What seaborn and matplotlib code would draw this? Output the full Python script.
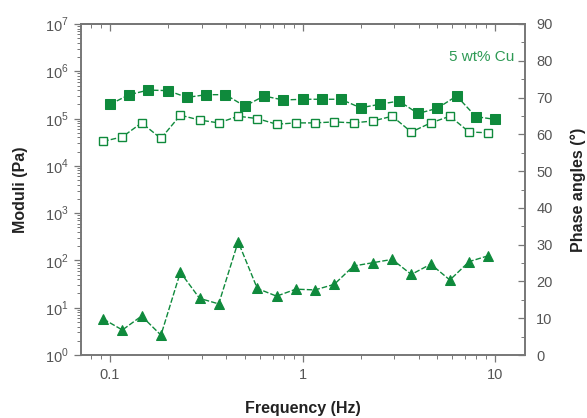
import numpy as np
import pandas as pd
import matplotlib
matplotlib.use("Agg")
import matplotlib.pyplot as plt
import seaborn as sns
from matplotlib.ticker import LogLocator, FixedLocator, MultipleLocator, NullFormatter

# ---- data ----
freq_storage = [0.1, 0.126, 0.158, 0.2, 0.251, 0.316, 0.398, 0.501, 0.631, 0.794,
                1.0, 1.26, 1.58, 2.0, 2.51, 3.16, 3.98, 5.01, 6.31, 7.94, 10.0]
storage = [2.0e5, 3.2e5, 4.0e5, 3.9e5, 2.8e5, 3.2e5, 3.2e5, 1.83e5, 3.0e5, 2.47e5,
           2.56e5, 2.56e5, 2.56e5, 1.69e5, 2.0e5, 2.35e5, 1.28e5, 1.65e5, 3.0e5, 1.1e5, 9.6e4]

freq_loss = [0.0923, 0.116, 0.146, 0.184, 0.232, 0.292, 0.367, 0.463, 0.582, 0.733,
             0.923, 1.16, 1.46, 1.84, 2.32, 2.92, 3.67, 4.63, 5.82, 7.33, 9.23]
loss = [3.3e4, 4.1e4, 8.1e4, 3.8e4, 1.18e5, 9.3e4, 8.1e4, 1.12e5, 1.0e5, 7.6e4,
        8.1e4, 8.1e4, 8.5e4, 8.1e4, 8.9e4, 1.12e5, 5.2e4, 8.1e4, 1.12e5, 5.2e4, 5.0e4]

phase = [9.8, 6.8, 10.6, 5.4, 22.5, 15.4, 13.9, 30.8, 18.1, 16.0,
         17.9, 17.7, 19.2, 24.2, 25.1, 26.0, 21.9, 24.7, 20.4, 25.4, 27.0]

x_ticks = [0.1, 1, 10]
x_ticklabels = ["0.1", "1", "10"]
y_ticks = [1e0, 1e1, 1e2, 1e3, 1e4, 1e5, 1e6, 1e7]
y_ticklabels = [r"$10^{%d}$" % i for i in range(8)]
phase_ticks = [0, 10, 20, 30, 40, 50, 60, 70, 80, 90]
annotation = "5 wt% Cu"

df_s = pd.DataFrame({"f": freq_storage, "G": storage})
df_l = pd.DataFrame({"f": freq_loss, "G": loss, "phase": phase})

sns.set_style("ticks")
plt.rcParams["font.family"] = ["Liberation Sans", "DejaVu Sans"]
plt.rcParams["mathtext.fontset"] = "custom"
plt.rcParams["mathtext.rm"] = "Liberation Sans"

green = "#0f8a3c"
tick_col = "#555555"
frame_col = "#777777"

fig = plt.figure(figsize=(5.87, 4.18), dpi=100)
ax = fig.add_axes([0.1375, 0.1507, 0.7570, 0.7919])
ax2 = ax.twinx()

dash = (4, 1.5)
sns.lineplot(data=df_s, x="f", y="G", ax=ax, color=green, marker="s", markersize=6.5,
             markeredgecolor=green, linewidth=1.0)
sns.lineplot(data=df_l, x="f", y="G", ax=ax, color=green, marker="s", markersize=5.5,
             markerfacecolor="white", markeredgecolor=green, markeredgewidth=1.0,
             linewidth=1.0)
sns.lineplot(data=df_l, x="f", y="phase", ax=ax2, color=green, marker="^", markersize=7,
             markeredgecolor=green, linewidth=1.0)
for line in ax.lines + ax2.lines:
    line.set_dashes(dash)

ax.set_xscale("log")
ax.set_yscale("log")
ax.set_xlim(0.0705, 14.3)
ax.set_ylim(1, 1e7)
ax2.set_ylim(0, 90)

ax.set_xticks(x_ticks)
ax.set_xticklabels(x_ticklabels)
ax.xaxis.set_minor_locator(LogLocator(base=10, subs=np.arange(2, 10)))
ax.xaxis.set_minor_formatter(NullFormatter())
ax.set_yticks(y_ticks)
ax.set_yticklabels(y_ticklabels)
ax.yaxis.set_minor_locator(LogLocator(base=10, subs=np.arange(2, 10), numticks=20))
ax.yaxis.set_minor_formatter(NullFormatter())
ax2.set_yticks(phase_ticks)
ax2.yaxis.set_minor_locator(MultipleLocator(5))

# top axis with inward ticks
top = ax.secondary_xaxis("top")
top.set_xticks(x_ticks)
top.set_xticklabels([])
top.xaxis.set_minor_locator(LogLocator(base=10, subs=np.arange(2, 10)))
top.xaxis.set_minor_formatter(NullFormatter())
top.tick_params(axis="x", which="both", direction="in", colors=frame_col)
top.tick_params(axis="x", which="major", length=5, width=0.9)
top.tick_params(axis="x", which="minor", length=3, width=0.7)
top.spines["top"].set_color(frame_col)
top.spines["top"].set_linewidth(1.2)

ax.tick_params(axis="x", which="both", direction="out", colors=frame_col,
               labelcolor=tick_col, labelsize=10.5)
ax.tick_params(axis="x", which="major", length=5, width=0.9, pad=4)
ax.tick_params(axis="x", which="minor", length=3, width=0.7)
ax.tick_params(axis="y", which="both", direction="out", colors=frame_col,
               labelcolor=tick_col, labelsize=10.5)
ax.tick_params(axis="y", which="major", length=5, width=0.9)
ax.tick_params(axis="y", which="minor", length=3, width=0.7)
ax2.tick_params(axis="y", which="both", direction="in", colors=frame_col,
                labelcolor=tick_col, labelsize=10.5, pad=8)
ax2.tick_params(axis="y", which="major", length=5, width=0.9)
ax2.tick_params(axis="y", which="minor", length=3, width=0.7)

for a in (ax, ax2):
    for s in a.spines.values():
        s.set_color(frame_col)
        s.set_linewidth(1.2)
        s.set_visible(True)

ax.set_xlabel("Frequency (Hz)", fontsize=11.5, fontweight="bold", color="#222222", labelpad=14)
ax.set_ylabel("Moduli (Pa)", fontsize=11.5, fontweight="bold", color="#222222", labelpad=12)
ax2.set_ylabel("Phase angles (\u00b0)", fontsize=11.5, fontweight="bold", color="#222222", labelpad=13)

ax.text(0.977, 0.90, annotation, transform=ax.transAxes, ha="right", va="center",
        fontsize=11, color="#2e9a55")

fig.savefig("out.png", dpi=100)
